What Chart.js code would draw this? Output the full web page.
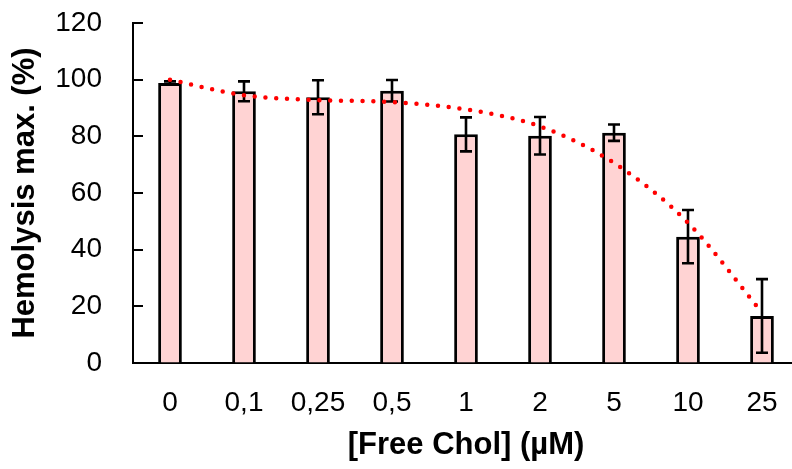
<!DOCTYPE html>
<html>
<head>
<meta charset="utf-8">
<script src="https://cdn.jsdelivr.net/npm/chart.js@4/dist/chart.umd.min.js"></script>
<style>
  html, body { margin: 0; padding: 0; background: #ffffff; overflow: hidden; }
  #wrap { width: 800px; height: 469px; }
</style>
</head>
<body>
<div id="wrap"><canvas id="c" width="800" height="469"></canvas></div>
<script>
const categories = ['0', '0,1', '0,25', '0,5', '1', '2', '5', '10', '25'];
const hemolysis = [98.8, 95.9, 93.8, 96.1, 80.7, 80.2, 81.3, 44.6, 16.6];
const errors = [0.6, 3.5, 6.0, 3.8, 6.0, 6.6, 2.9, 9.4, 13.0];
const trend = [100, 94.5, 92.8, 92.1, 89.5, 83.5, 70.6, 49.5, 17.8];
const yTicks = [0, 20, 40, 60, 80, 100, 120];

const FONT = '"Liberation Sans", Arial, sans-serif';

const errorBarPlugin = {
  id: 'errorBars',
  afterDatasetDraw(chart, args) {
    if (args.index !== 0) return;
    const meta = chart.getDatasetMeta(0);
    const y = chart.scales.y;
    const ctx = chart.ctx;
    ctx.save();
    ctx.strokeStyle = '#000000';
    ctx.lineWidth = 2.6;
    meta.data.forEach((bar, i) => {
      const x = bar.x;
      const yTop = y.getPixelForValue(hemolysis[i] + errors[i]);
      const yBot = y.getPixelForValue(hemolysis[i] - errors[i]);
      ctx.beginPath();
      ctx.moveTo(x, yTop); ctx.lineTo(x, yBot);
      ctx.moveTo(x - 6, yTop); ctx.lineTo(x + 6, yTop);
      ctx.moveTo(x - 6, yBot); ctx.lineTo(x + 6, yBot);
      ctx.stroke();
    });
    ctx.restore();
  }
};

const innerTicksPlugin = {
  id: 'innerTicks',
  afterDraw(chart) {
    const y = chart.scales.y;
    const ctx = chart.ctx;
    const x0 = chart.chartArea.left;
    ctx.save();
    ctx.strokeStyle = '#000000';
    ctx.lineWidth = 2;
    yTicks.forEach(v => {
      const py = Math.round(y.getPixelForValue(v));
      ctx.beginPath();
      ctx.moveTo(x0 - 1, py);
      ctx.lineTo(x0 + 10, py);
      ctx.stroke();
    });
    ctx.restore();
  }
};

new Chart(document.getElementById('c'), {
  data: {
    labels: categories,
    datasets: [
      {
        type: 'bar',
        data: hemolysis,
        backgroundColor: '#FFD3D3',
        borderColor: '#000000',
        borderWidth: 3,
        barPercentage: 0.32,
        categoryPercentage: 1.0,
        order: 1
      },
      {
        type: 'line',
        data: trend,
        borderColor: '#FF0000',
        borderWidth: 4.5,
        borderDash: [0, 10.8],
        borderCapStyle: 'round',
        pointRadius: 0,
        cubicInterpolationMode: 'monotone',
        fill: false,
        order: 0
      }
    ]
  },
  options: {
    responsive: false,
    animation: false,
    events: [],
    layout: { padding: { left: 0, right: 1, top: 23, bottom: 0 } },
    plugins: {
      legend: { display: false },
      tooltip: { enabled: false }
    },
    scales: {
      x: {
        type: 'category',
        grid: { display: true, drawOnChartArea: false, drawTicks: false },
        border: { display: true, color: '#000000', width: 2 },
        ticks: {
          color: '#000000',
          font: { family: FONT, size: 28 },
          padding: 23,
          maxRotation: 0,
          autoSkip: false
        },
        title: {
          display: true,
          text: '[Free Chol] (µM)',
          color: '#000000',
          font: { family: FONT, size: 31, weight: 'bold' },
          padding: { top: 0, bottom: 5 }
        },
        afterFit(scale) {
          scale.height = 106;
          scale.paddingLeft = 0;
          scale.paddingRight = 0;
        }
      },
      y: {
        min: 0,
        max: 120,
        grid: { display: true, drawOnChartArea: false, drawTicks: false },
        border: { display: true, color: '#000000', width: 2 },
        ticks: {
          stepSize: 20,
          color: '#000000',
          font: { family: FONT, size: 28 },
          padding: 31
        },
        title: {
          display: true,
          text: 'Hemolysis max. (%)',
          color: '#000000',
          font: { family: FONT, size: 31, weight: 'bold' },
          padding: { top: 7, bottom: 0 }
        },
        afterFit(scale) {
          scale.width = 133;
          scale.paddingTop = 0;
          scale.paddingBottom = 0;
        }
      }
    }
  },
  plugins: [errorBarPlugin, innerTicksPlugin]
});
</script>
</body>
</html>
